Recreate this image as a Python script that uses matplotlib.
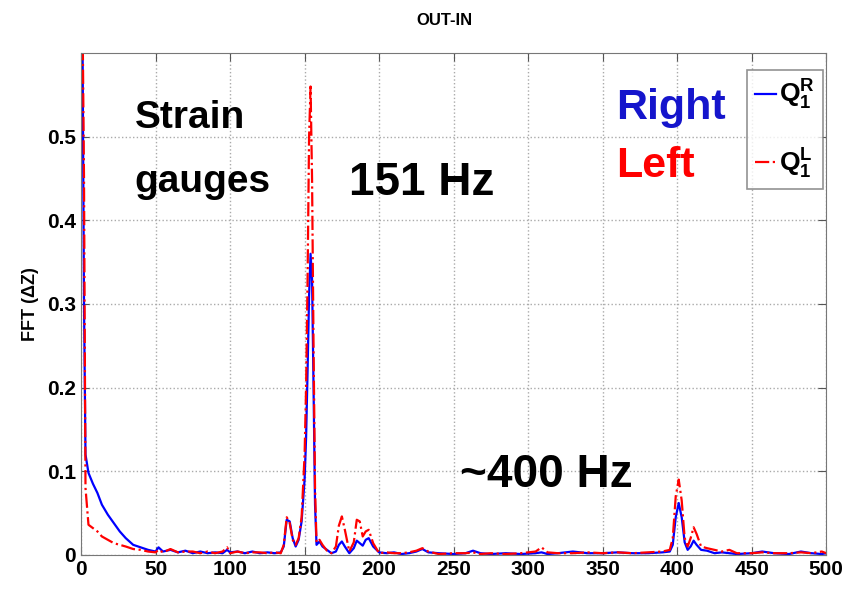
import numpy as np
import matplotlib
matplotlib.use("Agg")
import matplotlib.pyplot as plt

plt.rcParams['font.family'] = ['Liberation Sans', 'DejaVu Sans']
plt.rcParams['font.weight'] = 'bold'
plt.rcParams['mathtext.fontset'] = 'custom'
plt.rcParams['mathtext.bf'] = 'Liberation Sans:bold'
plt.rcParams['mathtext.rm'] = 'Liberation Sans:bold'
plt.rcParams['mathtext.it'] = 'Liberation Sans:bold'

# frequency grid (Hz)
freq = [0, 1, 2, 3, 5, 8, 11, 14, 18, 22, 26, 30, 35, 40, 45, 50, 52, 55, 60, 65,
        70, 75, 80, 85, 90, 95, 98, 100, 105, 110, 115, 120, 125, 130, 134, 136, 138, 140, 142, 144,
        146, 148, 150, 151, 152, 153, 154, 155, 156, 157, 158, 160, 162, 165, 168, 171, 173, 175, 177, 180,
        183, 185, 187, 189, 191, 193, 196, 200, 205, 210, 215, 220, 225, 229, 233, 240, 250, 258, 263, 268,
        275, 285, 295, 305, 309, 313, 320, 330, 340, 350, 360, 370, 380, 390, 395, 397, 399, 401, 403, 405,
        407, 409, 411, 413, 416, 420, 425, 430, 435, 440, 450, 457, 465, 475, 483, 490, 497, 500]

# Q1 right (blue)
right = [0.70, 0.62, 0.30, 0.12, 0.098, 0.085, 0.074, 0.06, 0.048, 0.038, 0.028, 0.02, 0.012, 0.009, 0.006, 0.004, 0.009, 0.004, 0.006, 0.003,
         0.005, 0.002, 0.004, 0.002, 0.003, 0.002, 0.006, 0.003, 0.004, 0.002, 0.004, 0.002, 0.003, 0.002, 0.003, 0.01, 0.042, 0.04, 0.02, 0.01,
         0.018, 0.04, 0.09, 0.14, 0.22, 0.31, 0.36, 0.33, 0.2, 0.06, 0.012, 0.016, 0.01, 0.006, 0.002, 0.004, 0.012, 0.016, 0.01, 0.002,
         0.008, 0.017, 0.014, 0.011, 0.018, 0.02, 0.01, 0.003, 0.002, 0.003, 0.001, 0.002, 0.004, 0.007, 0.003, 0.002, 0.001, 0.002, 0.005, 0.002,
         0.001, 0.002, 0.001, 0.002, 0.003, 0.001, 0.002, 0.004, 0.002, 0.002, 0.003, 0.002, 0.002, 0.003, 0.004, 0.012, 0.045, 0.062, 0.045, 0.015,
         0.006, 0.01, 0.017, 0.012, 0.006, 0.005, 0.002, 0.003, 0.002, 0.001, 0.002, 0.004, 0.002, 0.001, 0.004, 0.002, 0.001, 0.002]

# Q1 left (red)
left = [0.70, 0.65, 0.45, 0.08, 0.036, 0.032, 0.028, 0.022, 0.018, 0.014, 0.012, 0.01, 0.007, 0.006, 0.004, 0.003, 0.006, 0.003, 0.007, 0.003,
        0.004, 0.004, 0.002, 0.004, 0.002, 0.004, 0.009, 0.002, 0.004, 0.002, 0.003, 0.003, 0.002, 0.003, 0.002, 0.012, 0.045, 0.038, 0.018, 0.012,
        0.02, 0.045, 0.12, 0.2, 0.33, 0.5, 0.56, 0.45, 0.25, 0.08, 0.015, 0.018, 0.012, 0.005, 0.002, 0.01, 0.035, 0.046, 0.03, 0.004,
        0.015, 0.042, 0.04, 0.022, 0.028, 0.03, 0.014, 0.002, 0.003, 0.002, 0.002, 0.003, 0.005, 0.008, 0.004, 0.001, 0.002, 0.002, 0.003, 0.001,
        0.002, 0.001, 0.002, 0.004, 0.009, 0.003, 0.002, 0.002, 0.003, 0.002, 0.003, 0.002, 0.003, 0.004, 0.006, 0.02, 0.07, 0.09, 0.065, 0.02,
        0.01, 0.02, 0.033, 0.025, 0.01, 0.008, 0.006, 0.004, 0.006, 0.002, 0.002, 0.003, 0.002, 0.002, 0.003, 0.002, 0.004, 0.002]

xticks = [0, 50, 100, 150, 200, 250, 300, 350, 400, 450, 500]
yticks = [0, 0.1, 0.2, 0.3, 0.4, 0.5]
ytick_labels = ['0', '0.1', '0.2', '0.3', '0.4', '0.5']

fig = plt.figure(figsize=(8.44, 5.96), dpi=100)
ax = fig.add_axes([0.096, 0.069, 0.883, 0.842])

ax.plot(freq, right, color='#0000ff', lw=1.6, label=r'$\mathbf{Q_1^R}$')
ax.plot(freq, left, color='#ff0000', lw=1.6, ls='-.', label=r'$\mathbf{Q_1^L}$')

ax.set_xlim(0, 500)
ax.set_ylim(0, 0.6)
ax.set_xticks(xticks)
ax.set_yticks(yticks)
ax.set_yticklabels(ytick_labels)
ax.tick_params(direction='in', top=True, right=True, labelsize=15, length=6, color='#555555')
for lab in ax.get_xticklabels() + ax.get_yticklabels():
    lab.set_fontweight('bold')
ax.grid(True, ls=':', color='#aaaaaa', lw=1)
for s in ax.spines.values():
    s.set_color('#777777')

ax.set_ylabel('FFT (ΔZ)', fontsize=13, fontweight='bold', labelpad=6)
fig.text(0.527, 0.965, 'OUT-IN', ha='center', va='center', fontsize=12, fontweight='bold')

ax.text(36, 0.484, 'Strain\ngauges', fontsize=28, fontweight='bold', va='center', ha='left', linespacing=2.0)
ax.text(180, 0.445, '151 Hz', fontsize=33, fontweight='bold', va='center', ha='left')
ax.text(254, 0.096, '~400 Hz', fontsize=33, fontweight='bold', va='center', ha='left')
ax.text(359, 0.534, 'Right', fontsize=31, fontweight='bold', color='#1515cc', va='center', ha='left')
ax.text(359, 0.465, 'Left', fontsize=31, fontweight='bold', color='#ff0000', va='center', ha='left')

leg = ax.legend(loc='upper right', fontsize=19, handlelength=0.8, handletextpad=0.1,
                labelspacing=1.3, borderpad=0.3, borderaxespad=0,
                bbox_to_anchor=(0.995, 0.966))
leg.get_frame().set_boxstyle('square', pad=0)
leg.get_frame().set_edgecolor('#777777')
leg.get_frame().set_linewidth(1.2)

fig.savefig('out.png', dpi=100)
